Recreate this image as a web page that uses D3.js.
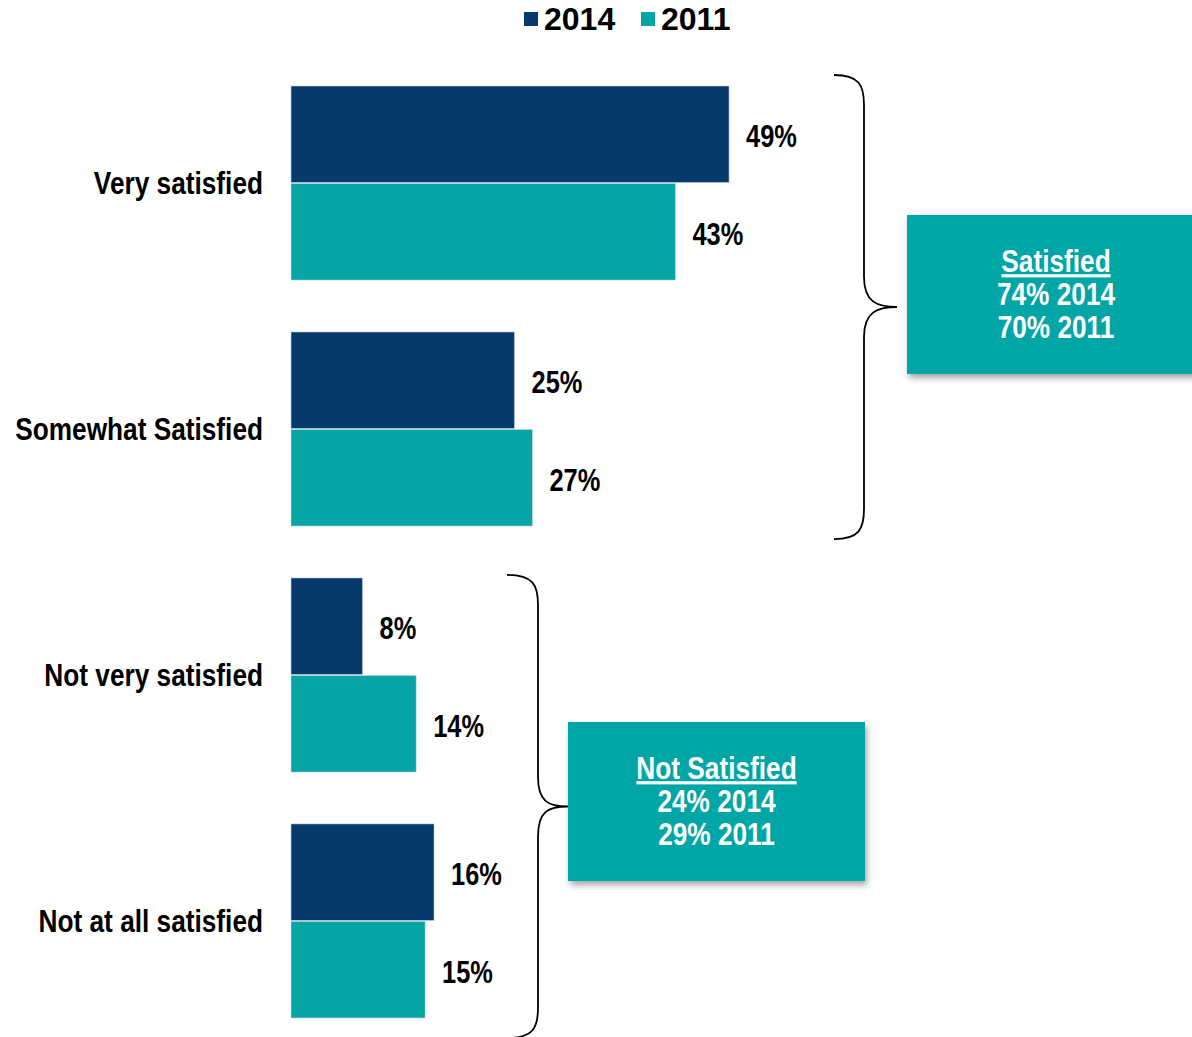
<!DOCTYPE html>
<html lang="en">
<head>
<meta charset="UTF-8">
<title>Satisfaction 2014 vs 2011</title>
<script src="https://d3js.org/d3.v7.min.js"></script>
<style>
  body { margin: 0; background: #fff; }
  text { font-family: "Liberation Sans", Arial, sans-serif; font-weight: bold; }
</style>
</head>
<body>
<div id="chart"></div>
<script>
// data
var categories = ["Very satisfied", "Somewhat Satisfied", "Not very satisfied", "Not at all satisfied"];
var series = ["2014", "2011"];
var values2014 = [49, 25, 8, 16];
var values2011 = [43, 27, 14, 15];
var groupTitles = ["Satisfied", "Not Satisfied"];
var groupLines = [["74% 2014", "70% 2011"], ["24% 2014", "29% 2011"]];

var color = d3.scaleOrdinal().domain(series).range(["#06396c", "#05a5a5"]);

var W = 1192, H = 1037;
var NARROW = 0.82; // no Arial Narrow installed, squeeze the regular face instead
function narrow(px, py) { return "translate(" + px + "," + py + ") scale(" + NARROW + ",1)"; }

var svg = d3.select("#chart").append("svg")
    .attr("width", W).attr("height", H);

var defs = svg.append("defs");
var f = defs.append("filter").attr("id", "shadow")
    .attr("x", "-10%").attr("y", "-10%").attr("width", "130%").attr("height", "130%");
f.append("feDropShadow").attr("dx", 2).attr("dy", 4).attr("stdDeviation", 3)
    .attr("flood-color", "#000").attr("flood-opacity", 0.35);

// scales
var x = d3.scaleLinear().domain([0, 100]).range([291, 291 + 894]);
var y = d3.scaleBand().domain(categories).range([86, 1018]).paddingInner(0.211);
var ySub = d3.scaleBand().domain(series).range([0, y.bandwidth()]).paddingInner(0.01);

var rows = categories.map(function(c, i) {
  return { cat: c, vals: [{ s: "2014", v: values2014[i] }, { s: "2011", v: values2011[i] }] };
});

var g = svg.selectAll(".grp").data(rows).enter().append("g")
    .attr("transform", function(d) { return "translate(0," + y(d.cat) + ")"; });

g.selectAll("rect").data(function(d) { return d.vals; }).enter().append("rect")
    .attr("x", x(0))
    .attr("y", function(d) { return ySub(d.s); })
    .attr("width", function(d) { return x(d.v) - x(0); })
    .attr("height", ySub.bandwidth())
    .attr("fill", function(d) { return color(d.s); })
    .attr("stroke", "#c9d6e2").attr("stroke-width", 0.6);

g.selectAll(".val").data(function(d) { return d.vals; }).enter().append("text")
    .attr("transform", function(d) { return narrow(x(d.v) + 17, ySub(d.s) + ySub.bandwidth() / 2 + 2); })
    .attr("dy", "0.35em")
    .style("font-size", "31px")
    .text(function(d) { return d.v + "%"; });

g.append("text")
    .attr("transform", narrow(263, y.bandwidth() / 2))
    .attr("dy", "0.35em")
    .attr("text-anchor", "end")
    .style("font-size", "32px")
    .text(function(d) { return d.cat; });

// legend
var leg = svg.append("g").attr("transform", "translate(524,0)");
var legX = [0, 117];
series.forEach(function(s, i) {
  leg.append("rect").attr("x", legX[i]).attr("y", 12).attr("width", 14).attr("height", 14)
    .attr("fill", color(s));
  leg.append("text").attr("x", legX[i] + 20).attr("y", 30)
    .style("font-size", "32px")
    .text(s);
});

// braces
function brace(x0, xv, xt, y0, y1, ym) {
  var r = 30;
  return "M" + x0 + "," + y0 +
    " C" + (xv - 5) + "," + y0 + " " + xv + "," + (y0 + 10) + " " + xv + "," + (y0 + r) +
    " L" + xv + "," + (ym - r) +
    " C" + xv + "," + (ym - 5) + " " + (xt - 20) + "," + ym + " " + xt + "," + ym +
    " C" + (xt - 20) + "," + ym + " " + xv + "," + (ym + 5) + " " + xv + "," + (ym + r) +
    " L" + xv + "," + (y1 - r) +
    " C" + xv + "," + (y1 - 10) + " " + (xv - 5) + "," + y1 + " " + x0 + "," + y1;
}
var braces = [
  { x0: 834, xv: 864, xt: 897, y0: y(categories[0]) - 11, y1: y(categories[1]) + y.bandwidth() + 13 },
  { x0: 507, xv: 538, xt: 568, y0: y(categories[2]) - 3, y1: y(categories[3]) + y.bandwidth() + 20 }
];
braces.forEach(function(b) {
  b.ym = (b.y0 + b.y1) / 2;
  svg.append("path").attr("d", brace(b.x0, b.xv, b.xt, b.y0, b.y1, b.ym))
    .attr("fill", "none").attr("stroke", "#000").attr("stroke-width", 1.8);
});

// summary boxes
var boxes = [
  { x: 907, y: 215, w: 290, h: 159 },
  { x: 568, y: 722, w: 297, h: 159 }
];
boxes.forEach(function(bx, i) {
  svg.append("rect").attr("x", bx.x).attr("y", bx.y).attr("width", bx.w).attr("height", bx.h)
    .attr("fill", "#05a5a5").attr("filter", "url(#shadow)");
  var cx = i === 0 ? 1056 : bx.x + bx.w / 2;
  var lines = [groupTitles[i]].concat(groupLines[i]);
  lines.forEach(function(l, j) {
    svg.append("text").attr("transform", narrow(cx, bx.y + 57 + j * 33))
      .attr("text-anchor", "middle").attr("fill", "#fff")
      .style("font-size", "32px")
      .style("text-decoration", j === 0 ? "underline" : null)
      .text(l);
  });
});
</script>
</body>
</html>
